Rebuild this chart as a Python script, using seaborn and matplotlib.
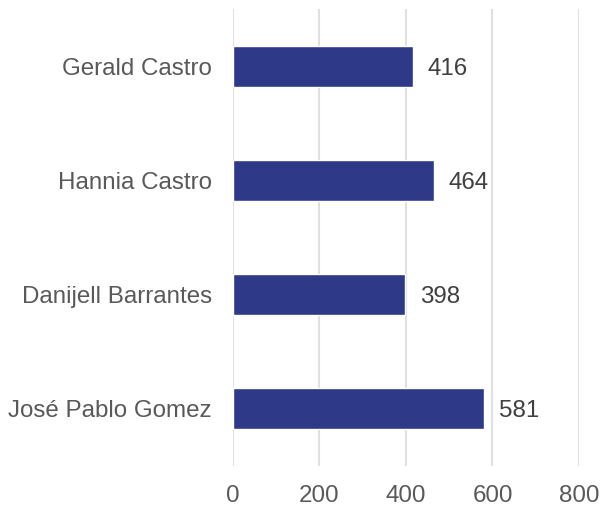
import matplotlib
matplotlib.use('Agg')
import matplotlib.pyplot as plt
import pandas as pd
import seaborn as sns

names = ['Gerald Castro', 'Hannia Castro', 'Danijell Barrantes', 'José Pablo Gomez']
scores = [416, 464, 398, 581]
xticks = [0, 200, 400, 600, 800]

df = pd.DataFrame({'name': names, 'score': scores})

sns.set_style('white')
plt.rcParams['font.family'] = ['Liberation Sans', 'DejaVu Sans']

fig = plt.figure(figsize=(6, 5.08), dpi=100)
ax = fig.add_axes([0.388, 0.083, 0.577, 0.899])

sns.barplot(data=df, x='score', y='name', color='#2E3A87', width=0.36,
            saturation=1, ax=ax, zorder=3)

# value labels next to bars
for i, v in enumerate(scores):
    ax.text(v + 34, i + 0.02, str(v), va='center', ha='left', fontsize=17.4, color='#404040')

ax.set_xlim(0, 800)
ax.set_xticks(xticks)
ax.grid(axis='x', color='#e0e0e0', linewidth=1.5, zorder=0)
ax.set_axisbelow(True)
for s in ax.spines.values():
    s.set_visible(False)
ax.tick_params(axis='both', length=0, labelsize=17.4, labelcolor='#595959')
ax.tick_params(axis='y', pad=15)
ax.tick_params(axis='x', pad=13.5)
ax.set_xlabel('')
ax.set_ylabel('')

fig.savefig('out.png', dpi=100)
